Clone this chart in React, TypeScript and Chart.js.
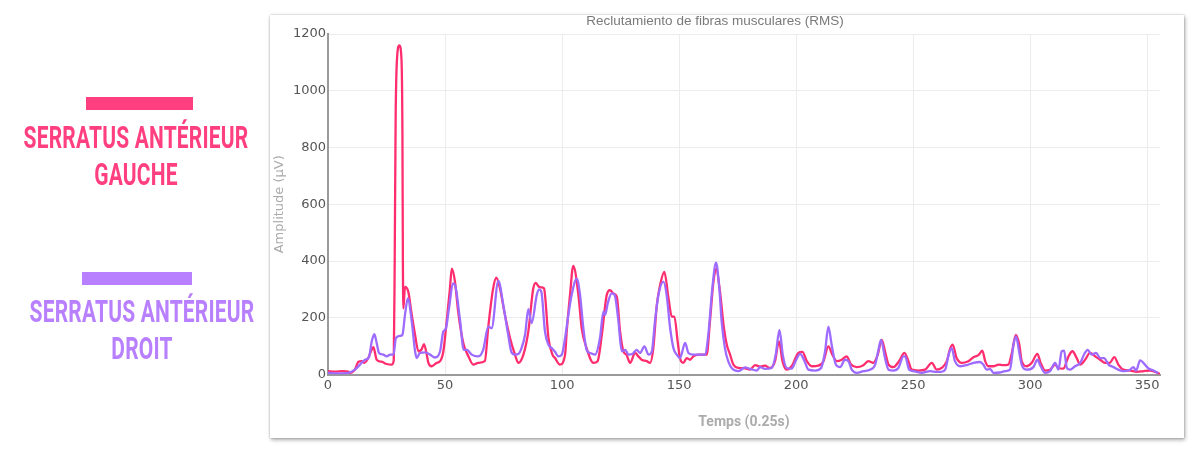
import React, { useEffect, useRef } from "react";
import { Chart, registerables } from "chart.js";

Chart.register(...registerables);

const chartTitle = "Reclutamiento de fibras musculares (RMS)";
const xAxisTitle = "Temps (0.25s)";
const yAxisTitle = "Amplitude (µV)";
const seriesNames = ["Serratus antérieur gauche", "Serratus antérieur droit"];
const xTickStep = 50;
const yTickStep = 200;
const xMin = 0;
const xMax = 355.5;
const yMin = 0;
const yMax = 1200;

// Serratus antérieur gauche (pink)
const gaucheX = [
  0, 3, 6, 8.7, 9.4, 11.5, 13, 14.4, 15.5, 17.2, 18.7, 19.4, 20.8, 22.9, 25.1, 27.2, 28.1, 28.5, 28.9, 29.5,
  30.5, 31.4, 31.8, 32.0, 32.2, 32.9, 34.3, 35.7, 37.2, 38.6, 40.0, 41.0, 42.2, 42.9, 44.3, 46.4, 47.9, 49.3, 50.7, 52.1,
  52.9, 54.2, 55.7, 57.8, 60, 62.1, 64.2, 67, 68.5, 70.5, 71.9, 73.3, 75.6, 77.8, 79.9, 81.3, 83.5, 85.6, 87.7, 88.8,
  90, 91.3, 92.3, 94.2, 95.9, 97, 99.1, 101.3, 102, 103.4, 104.8, 107, 108.4, 110.5, 113.4, 115.2, 117, 119.1, 120.5, 122,
  123.4, 124.8, 126.2, 127.5, 129.1, 131.2, 132.6, 134, 136.2, 137.6, 139, 140.5, 141.9, 143.7, 145.5, 146.9, 148, 149.4, 150.4, 151.8,
  153.3, 154.7, 156.1, 158.2, 161.8, 163.2, 164.7, 165.8, 167.5, 169, 170.4, 171.8, 173.2, 175.4, 178.2, 180.3, 182.5, 184.6, 186.7, 188.9,
  191, 192.7, 194.2, 196, 198.1, 201, 202.7, 204.6, 206.7, 209.5, 211.7, 213.8, 215.5, 217.4, 219.5, 221.6, 223.5, 225.9, 228.8, 230.9,
  233, 234.9, 236.6, 238, 239.5, 241.6, 244, 246.3, 248, 249.4, 252.3, 255.1, 258, 260.1, 262.2, 264.4, 265.8, 266.9, 268.6, 270.8,
  273.6, 275.8, 277.9, 279.6, 280.8, 282.2, 284.3, 286.5, 288.6, 290.7, 292.2, 293.9, 295.4, 296.4, 298.6, 300.7, 303.1, 304.5, 306.4, 308.5,
  310.7, 312.1, 314.2, 316.4, 318.1, 319.9, 321.4, 323.5, 325.6, 327.8, 329.9, 332, 334, 336, 337.7, 339.9, 342.7, 345.6, 348.5, 351.3,
  353.4, 355.5,
];
const gaucheY = [
  12, 10, 12, 10, 6, 17, 45, 47, 41, 58, 88, 96, 52, 45, 37, 35, 50, 400, 900, 1115,
  1160, 1110, 850, 400, 233, 309, 292, 215, 140, 82, 88, 107, 70, 41, 29, 41, 47, 82, 187, 303,
  373, 330, 216, 111, 64, 35, 41, 47, 169, 300, 341, 310, 210, 128, 70, 41, 70, 152, 303, 323,
  310, 307, 303, 128, 70, 58, 35, 70, 152, 280, 383, 280, 163, 93, 41, 47, 140, 280, 297, 285,
  274, 152, 82, 70, 41, 76, 64, 52, 47, 41, 93, 245, 315, 362, 268, 204, 204, 117, 58, 41,
  58, 52, 64, 70, 70, 187, 327, 373, 292, 175, 105, 70, 35, 23, 22, 17, 33, 28, 31, 23,
  47, 117, 47, 17, 29, 76, 80, 47, 29, 31, 47, 99, 70, 47, 52, 64, 35, 26, 33, 47,
  41, 70, 122, 82, 35, 26, 47, 76, 47, 17, 14, 17, 41, 17, 23, 47, 90, 105, 58, 41,
  47, 61, 68, 84, 47, 29, 29, 35, 33, 35, 76, 140, 105, 47, 29, 41, 73, 41, 14, 17,
  35, 23, 21, 64, 82, 58, 35, 52, 76, 64, 52, 41, 41, 61, 35, 17, 14, 9, 12, 14,
  9, 2,
];

// Serratus antérieur droit (purple)
const droitX = [
  0, 4, 8.7, 11.5, 13.7, 15.8, 17.5, 18.7, 19.8, 20.8, 21.8, 23.6, 25.1, 26.5, 28, 29, 30.8, 31.8, 32.9, 34.1,
  35.8, 37.2, 37.9, 39.3, 41.5, 43.6, 45.7, 47.9, 49.3, 50.3, 51.7, 53.4, 54.3, 56.4, 58, 59.4, 61.4, 64.2, 66.3, 68.5,
  69.9, 72.8, 74.9, 77, 78.5, 79.9, 81.3, 82.7, 84.2, 85.6, 87, 89.2, 90.2, 91.2, 92.7, 94.2, 95.6, 97, 98.4, 99.9,
  101.3, 102.7, 104.1, 106.3, 107.7, 109.1, 110.5, 111.9, 114.1, 116.2, 117.7, 118.4, 119.5, 121.2, 122.5, 124.1, 125.5, 127, 128.4, 130,
  131.9, 133.3, 135.2, 137, 138.4, 139.7, 141.2, 143.3, 144.7, 146.2, 147.6, 149, 150.4, 152.6, 154, 156.1, 158.5, 161, 162.5, 164.2,
  165.8, 167.2, 168.2, 169.6, 171, 173.2, 175.4, 178.2, 180.3, 183.2, 184.6, 186.7, 189.6, 191.3, 192.9, 194.3, 196, 198.1, 199.8, 201.7,
  203.6, 205.3, 208.1, 210.7, 212.4, 213.8, 215.2, 217, 218.8, 220.9, 222.4, 223.8, 225.9, 228.8, 231.6, 233.8, 235.2, 236.3, 238, 239.5,
  241.6, 243.7, 245.9, 246.6, 248.3, 250.1, 253.7, 257.3, 260.1, 262, 263.7, 265.4, 266.5, 267.9, 270.1, 272.9, 275.8, 278.6, 280, 281.5,
  282.9, 284.3, 287, 289.3, 291.4, 292.9, 294, 295.4, 296.4, 298.6, 301.4, 303.1, 304.5, 306.4, 308.5, 310.7, 312.1, 313.5, 314.5, 315.7,
  317.1, 319.2, 321.4, 323.2, 324.6, 326.3, 328.2, 329.9, 331.6, 333.5, 335.6, 337.7, 339.9, 342.7, 344.1, 345.3, 347, 348.4, 350.6, 352.7,
  354.8,
];
const droitY = [
  6, 4, 6, 17, 35, 52, 61, 117, 142, 111, 76, 70, 64, 70, 70, 128, 136, 140, 210, 268,
  186, 82, 58, 76, 78, 70, 60, 82, 152, 160, 233, 321, 315, 192, 87, 87, 70, 64, 87, 169,
  163, 330, 245, 140, 76, 70, 72, 93, 140, 230, 181, 280, 300, 290, 152, 105, 93, 80, 64, 70,
  128, 210, 280, 338, 280, 163, 87, 76, 70, 128, 222, 210, 250, 286, 280, 187, 82, 87, 70, 72,
  87, 76, 99, 70, 82, 187, 280, 327, 280, 163, 93, 70, 58, 111, 76, 70, 70, 70, 140, 303,
  394, 303, 187, 93, 47, 17, 12, 25, 20, 14, 26, 20, 23, 70, 157, 70, 23, 21, 47, 73,
  47, 17, 14, 23, 82, 169, 105, 35, 26, 52, 47, 17, 6, 12, 17, 35, 87, 122, 58, 17,
  14, 23, 64, 64, 17, 12, 6, 12, 9, 9, 17, 76, 93, 47, 29, 33, 41, 44, 35, 17,
  20, 6, 7, 12, 17, 105, 134, 76, 35, 17, 26, 52, 29, 6, 12, 41, 17, 82, 84, 23,
  17, 29, 41, 73, 87, 70, 76, 58, 58, 35, 26, 17, 12, 17, 26, 14, 50, 41, 21, 14,
  5,
];

const pinkLine = "#ff2d6e";
const purpleLine = "#9d6bff";
const pinkLegend = "#ff3f7f";
const purpleLegend = "#b880ff";

const toPoints = (xs: number[], ys: number[]) => xs.map((x, i) => ({ x, y: ys[i] }));

function ChartCanvas() {
  const ref = useRef<HTMLCanvasElement | null>(null);
  useEffect(() => {
    if (!ref.current) return;
    const chart = new Chart(ref.current, {
      type: "line",
      data: {
        datasets: [
          {
            label: seriesNames[1],
            data: toPoints(droitX, droitY),
            borderColor: purpleLine,
            backgroundColor: purpleLine,
          },
          {
            label: seriesNames[0],
            data: toPoints(gaucheX, gaucheY),
            borderColor: pinkLine,
            backgroundColor: pinkLine,
          },
        ],
      },
      options: {
        animation: false,
        responsive: false,
        maintainAspectRatio: false,
        parsing: false as any,
        layout: { padding: { left: 0, right: 24, top: 0, bottom: 0 } },
        elements: {
          point: { radius: 0, hoverRadius: 0 },
          line: { borderWidth: 2.3, cubicInterpolationMode: "monotone", fill: false },
        },
        plugins: {
          legend: { display: false },
          tooltip: { enabled: false },
          title: {
            display: true,
            text: chartTitle,
            color: "#7a7a7a",
            font: { family: "'Liberation Sans', Arial, sans-serif", size: 13.5, weight: "normal" },
            padding: { top: 5, bottom: 4.8 },
          },
        },
        scales: {
          x: {
            type: "linear",
            min: xMin,
            max: xMax,
            ticks: {
              stepSize: xTickStep,
              includeBounds: false,
              color: "#555",
              font: { family: "'DejaVu Sans', sans-serif", size: 13 },
              padding: 3,
              maxRotation: 0,
              callback: (v: any) => String(v),
            },
            grid: { color: "#ececec", drawTicks: false },
            border: { color: "#9a9a9a", width: 2 },
            title: {
              display: true,
              text: xAxisTitle,
              color: "#ababab",
              font: { family: "Roboto, sans-serif", size: 14, weight: "bold" },
              padding: { top: 4, bottom: 7.6 },
            },
            afterFit: (s: any) => {
              s.height = 63.5;
            },
          },
          y: {
            type: "linear",
            min: yMin,
            max: yMax,
            ticks: {
              stepSize: yTickStep,
              color: "#555",
              font: { family: "'DejaVu Sans', sans-serif", size: 13 },
              padding: 2,
              callback: (v: any) => String(v),
            },
            grid: { color: "#ececec", drawTicks: false },
            border: { color: "#9a9a9a", width: 2 },
            title: {
              display: true,
              text: yAxisTitle,
              color: "#ababab",
              font: { family: "'DejaVu Sans', sans-serif", size: 13, weight: "normal" },
              padding: { top: 2.2, bottom: 2 },
            },
            afterFit: (s: any) => {
              s.width = 58;
            },
          },
        },
      } as any,
    });
    return () => chart.destroy();
  }, []);
  return (
    <canvas
      ref={ref}
      width={914}
      height={430}
      style={{ position: "absolute", left: 270, top: 8, width: 914, height: 430 }}
    />
  );
}

const legendText: React.CSSProperties = {
  position: "absolute",
  width: 440,
  textAlign: "center",
  fontFamily: "Roboto, sans-serif",
  fontWeight: 700,
  fontSize: 32,
  lineHeight: "37px",
  letterSpacing: "0.3px",
  whiteSpace: "nowrap",
  transform: "scale(0.655, 1)",
  transformOrigin: "50% 0",
};

export default function App() {
  return (
    <div style={{ position: "absolute", left: 0, top: 0, width: 1200, height: 455, overflow: "hidden" }}>
      <div
        style={{
          position: "absolute",
          left: 270,
          top: 15,
          width: 914,
          height: 423,
          background: "#fff",
          boxShadow: "1px 2px 4px rgba(0,0,0,0.32), 0 0 2px rgba(0,0,0,0.25)",
        }}
      />
      <ChartCanvas />
      {/* legend: gauche */}
      <div style={{ position: "absolute", left: 86, top: 97, width: 107, height: 13, background: pinkLegend }} />
      <div style={{ ...legendText, left: 136 - 220, top: 118.6, color: pinkLegend }}>
        SERRATUS ANTÉRIEUR
        <br />
        GAUCHE
      </div>
      {/* legend: droit */}
      <div style={{ position: "absolute", left: 82, top: 272, width: 110, height: 13, background: purpleLegend }} />
      <div style={{ ...legendText, left: 141.5 - 220, top: 292.6, color: purpleLegend }}>
        SERRATUS ANTÉRIEUR
        <br />
        DROIT
      </div>
    </div>
  );
}
